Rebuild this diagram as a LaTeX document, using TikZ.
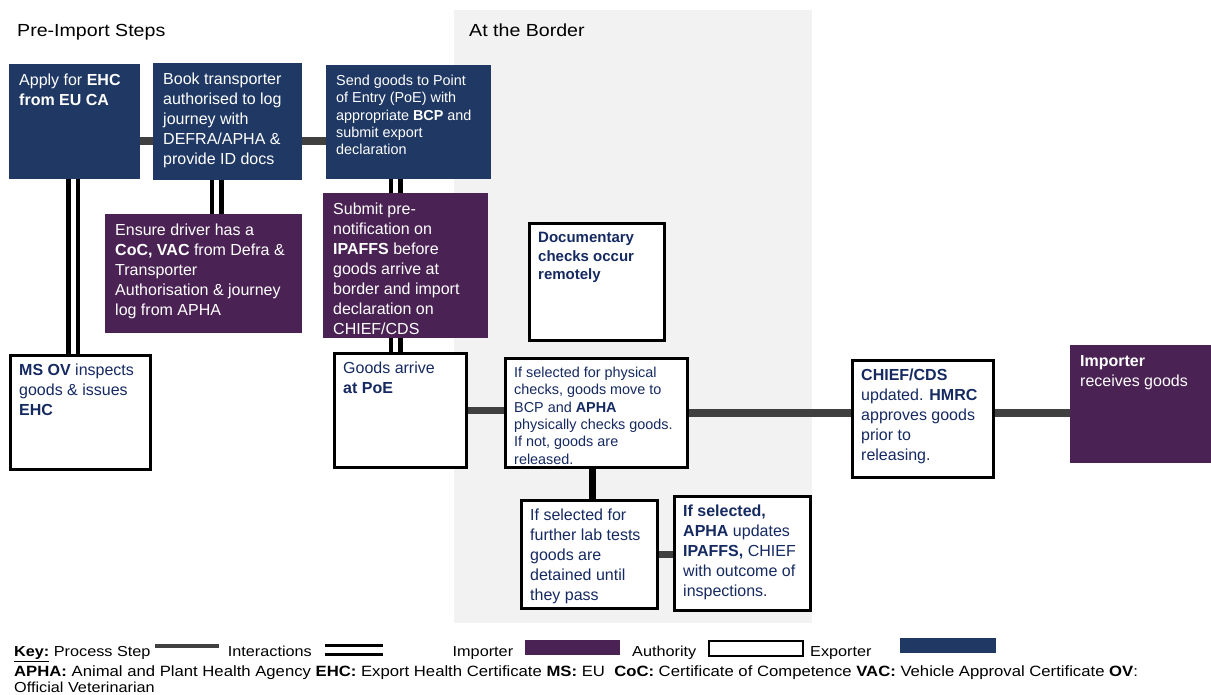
\documentclass[tikz,border=0pt]{standalone}
\usepackage{fontspec}
\setmainfont{Liberation Sans}
\newfontfamily\widefont[FakeStretch=1.12]{Liberation Sans}
\usepackage{xcolor}
\usepackage{tikz}
\usetikzlibrary{positioning, backgrounds}

\definecolor{exportnavy}{RGB}{31,56,100}
\definecolor{importpurple}{RGB}{74,35,84}
\definecolor{stepgray}{RGB}{64,64,64}
\definecolor{borderbg}{RGB}{242,242,242}
\definecolor{navytext}{RGB}{22,42,98}

\begin{document}
\begin{tikzpicture}[
    x=1pt, y=-1pt,
    exporter/.style={rectangle, fill=exportnavy, anchor=north west, inner sep=0pt},
    importer/.style={rectangle, fill=importpurple, anchor=north west, inner sep=0pt},
    authority/.style={rectangle, draw=black, line width=3pt, fill=white, anchor=north west, inner sep=0pt},
    boxtext/.style={anchor=north west, align=left, inner sep=0pt, xshift=10pt, yshift=-10pt, font=\fontsize{16}{20}\selectfont, text=#1},
    boxtext/.default=white,
    smalltext/.style={boxtext=#1, font=\fontsize{14.4}{17.3}\selectfont},
    keytext/.style={anchor=base west, inner sep=0pt, font=\widefont\fontsize{14.5}{17.5}\selectfont},
    steppath/.style={draw=stepgray, line width=7.5pt},
    interaction/.style={draw=black, double=white, line width=4.5pt, double distance=5pt}
]
\useasboundingbox (0,0) rectangle (1211,695);

% Headings
\node[keytext, font=\widefont\fontsize{17.5}{21}\selectfont] (pretitle) at (17,36.7) {Pre-Import Steps};
\node[keytext, font=\widefont\fontsize{17.5}{21}\selectfont] (bordertitle) at (469,36.7) {At the Border};

% Pre-import steps (exporter)
\node[exporter, minimum width=131, minimum height=115,
      label={[boxtext]north west:{Apply for \textbf{EHC}\\\textbf{from EU CA}}}] (apply) at (9,64) {};
\node[exporter, minimum width=149, minimum height=117,
      label={[boxtext]north west:{Book transporter\\authorised to log\\journey with\\DEFRA/APHA \&\\provide ID docs}}] (book) at (153,63) {};
\node[exporter, minimum width=165, minimum height=114,
      label={[smalltext]north west:{Send goods to Point\\of Entry (PoE) with\\appropriate \textbf{BCP} and\\submit export\\declaration}}] (send) at (326,65) {};

% Importer steps
\node[importer, minimum width=197, minimum height=119,
      label={[boxtext]north west:{Ensure driver has a\\\textbf{CoC, VAC} from Defra \&\\Transporter\\Authorisation \& journey\\log from APHA}}] (ensure) at (105,214) {};
\node[importer, minimum width=165, minimum height=145,
      label={[boxtext]north west:{Submit pre-\\notification on\\\textbf{IPAFFS} before\\goods arrive at\\border and import\\declaration on\\CHIEF/CDS}}] (submit) at (323,193) {};

% Authority steps
\node[authority, minimum width=140, minimum height=114,
      label={[boxtext=navytext]north west:{\textbf{MS OV} inspects\\goods \& issues\\\textbf{EHC}}}] (msov) at (9,354) {};
\node[authority, minimum width=132, minimum height=114,
      label={[boxtext=navytext]north west:{Goods arrive\\\textbf{at PoE}}}] (goods) at (333,352) {};
\node[authority, minimum width=135, minimum height=117,
      label={[boxtext=navytext, font=\bfseries\fontsize{15}{18.7}\selectfont]north west:{Documentary\\checks occur\\remotely}}] (docs) at (528,222) {};
\node[authority, minimum width=182, minimum height=109,
      label={[smalltext=navytext]north west:{If selected for physical\\checks, goods move to\\BCP and \textbf{APHA}\\physically checks goods.\\If not, goods are\\released.}}] (physical) at (504,357) {};
\node[authority, minimum width=136, minimum height=108,
      label={[boxtext=navytext]north west:{If selected for\\further lab tests\\goods are\\detained until\\they pass}}] (lab) at (520,499) {};
\node[authority, minimum width=136, minimum height=114,
      label={[boxtext=navytext]north west:{\textbf{If selected,}\\\textbf{APHA} updates\\\textbf{IPAFFS,} CHIEF\\with outcome of\\inspections.}}] (aphaupd) at (673,495) {};
\node[authority, minimum width=141, minimum height=117,
      label={[boxtext=navytext]north west:{\textbf{CHIEF/CDS}\\updated. \textbf{HMRC}\\approves goods\\prior to\\releasing.}}] (chief) at (851,359) {};

% Importer receives
\node[importer, minimum width=141, minimum height=118,
      label={[boxtext]north west:{\textbf{Importer}\\receives goods}}] (receive) at (1070,345) {};

% Connection points
\coordinate (s1) at ([yshift=-19.5pt]apply.east);
\coordinate (s2) at ([yshift=-19.5pt]book.east);
\coordinate (s3) at ([xshift=-4pt]physical.south);
\coordinate (i1) at ([xshift=-1.5pt]apply.south);
\coordinate (i2) at ([xshift=-11pt]book.south);
\coordinate (i3) at ([xshift=-13pt]send.south);

\begin{pgfonlayer}{background}
% Border area
\fill[borderbg] (454,10) rectangle (812,623);

% Process steps
\draw[steppath] (s1) -- (s1 -| book.west);
\draw[steppath] (s2) -- (s2 -| send.west);
\draw[steppath] (goods.east) -- (goods.east -| physical.west);
\draw[steppath] (physical.east) -- (physical.east -| chief.west);
\draw[steppath] (physical.east -| chief.east) -- (physical.east -| receive.west);
\draw[steppath, draw=black] (s3) -- (s3 |- lab.north);
\draw[steppath] (lab.east) -- (lab.east -| aphaupd.west);

% Interactions
\draw[interaction] (i1) -- (i1 |- msov.north);
\draw[interaction] (i2) -- (i2 |- ensure.north);
\draw[interaction] (i3) -- (i3 |- submit.north);
\draw[interaction] (i3 |- submit.south) -- (i3 |- goods.north);
\end{pgfonlayer}

% Key
\node[keytext] (keyhead) at (14,656.7) {\underline{\textbf{Key:}} Process Step};
\node[fill=stepgray, minimum width=64, minimum height=4.5, inner sep=0pt, anchor=west] (keystep) at (155,646) {};
\node[keytext] (keyinter) at (227.7,656.7) {Interactions};
\draw[interaction, line width=3pt, double distance=6pt] (325,649.5) -- (383,649.5);
\node[keytext] (keyimp) at (452.5,656.7) {Importer};
\node[importer, minimum width=95.5, minimum height=15] (keyimpbox) at (524.5,640) {};
\node[keytext] (keyauth) at (632,656.7) {Authority};
\node[authority, line width=2pt, minimum width=94, minimum height=15] (keyauthbox) at (708,640) {};
\node[keytext] (keyexp) at (810,656.7) {Exporter};
\node[exporter, minimum width=96, minimum height=15] (keyexpbox) at (900,638) {};
\node[keytext, font=\widefont\fontsize{14.9}{17.5}\selectfont] (keyabbr) at (14,676) {\textbf{APHA:} Animal and Plant Health Agency \textbf{EHC:} Export Health Certificate \textbf{MS:} EU\ \ \textbf{CoC:} Certificate of Competence \textbf{VAC:} Vehicle Approval Certificate \textbf{OV}:};
\node[keytext] (keyov) at (14,692.5) {Official Veterinarian};

\end{tikzpicture}
\end{document}
